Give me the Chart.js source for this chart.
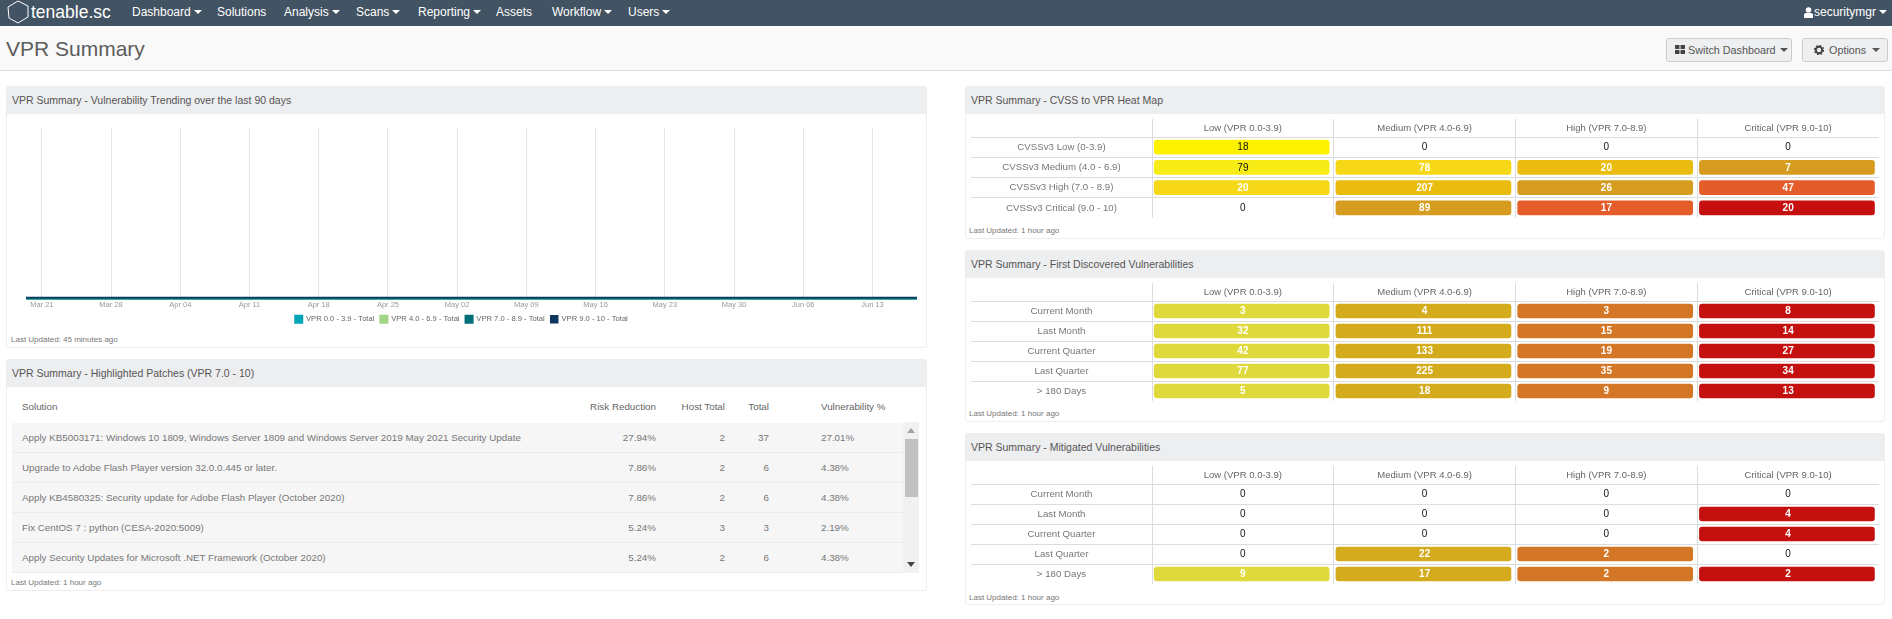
<!DOCTYPE html>
<html>
<head>
<meta charset="utf-8">
<title>VPR Summary</title>
<script src="https://cdn.jsdelivr.net/npm/chart.js@4/dist/chart.umd.min.js"></script>
<style>
    html, body { margin: 0; padding: 0; background: #fff; overflow: hidden; }
    body { width: 1892px; height: 619px; position: relative; font-family: "Liberation Sans", Arial, sans-serif; color: #666; }
    .abs, canvas { position: absolute; }
    #nav { left: 0; top: 0; width: 1892px; height: 26px; background: #425363; }
    .nav-item { position: absolute; top: 5px; color: #fff; font-size: 12px; line-height: 14px; white-space: nowrap; }
    .caret { display: inline-block; width: 0; height: 0; margin-left: 3px; vertical-align: 2px; border-left: 4px solid transparent; border-right: 4px solid transparent; border-top: 4px solid currentColor; }
    #brand { position: absolute; left: 31px; top: 1px; color: #fff; font-size: 17.500px; line-height: 23px; }
    #pageHead { left: 0; top: 29px; width: 1892px; height: 41px; background: #f9f9f9; border-bottom: 1px solid #ddd; }
    #pageTitle { position: absolute; left: 6px; top: 6px; font-size: 21px; line-height: 28px; color: #5c5c5c; }
    .btn { position: absolute; top: 9px; height: 22px; line-height: 22px; background: #eeeff0; border: 1px solid #ccc; border-radius: 3px; font-size: 10.8px; color: #555; white-space: nowrap; box-sizing: content-box; }
    .panel { position: absolute; background: #fff; border: 1px solid #eee; border-radius: 3px; box-sizing: border-box; }
    .panel-head { position: absolute; left: -1px; right: -1px; top: -1px; height: 28px; background: #edeef0; border-radius: 3px 3px 0 0; }
    .panel-title { position: absolute; left: 6px; top: 7px; font-size: 10.5px; line-height: 14px; color: #555; white-space: nowrap; }
    .updated { position: absolute; font-size: 8px; line-height: 11px; color: #777; white-space: nowrap; }
    .th, .td { position: absolute; font-size: 9.8px; line-height: 14px; color: #777; white-space: nowrap; }
    .th { color: #666; }
    .row-bg { position: absolute; left: 12px; width: 891px; height: 29px; background: #f6f6f6; border-bottom: 1px solid #ececec; }
    #scrollTrack { left: 903px; top: 422px; width: 16px; height: 151px; background: #f1f1f1; }
    #scrollThumb { left: 905px; top: 439px; width: 13px; height: 58px; background: #c1c1c1; }
</style>
</head>
<body>

<div class="abs" id="nav">
    <svg class="abs" style="left:6px;top:0" width="24" height="25"><polygon points="12,1 22,6 22,17 12,23 3,18 2,7" fill="none" stroke="#fff" stroke-width="1"/></svg>
    <div id="brand">tenable.sc</div>
    <div class="nav-item" style="left:132px">Dashboard<span class="caret"></span></div>
    <div class="nav-item" style="left:217px">Solutions</div>
    <div class="nav-item" style="left:284px">Analysis<span class="caret"></span></div>
    <div class="nav-item" style="left:356px">Scans<span class="caret"></span></div>
    <div class="nav-item" style="left:418px">Reporting<span class="caret"></span></div>
    <div class="nav-item" style="left:496px">Assets</div>
    <div class="nav-item" style="left:552px">Workflow<span class="caret"></span></div>
    <div class="nav-item" style="left:628px">Users<span class="caret"></span></div>
    <svg class="abs" style="left:1804px;top:7px" width="9" height="11"><circle cx="4.5" cy="3" r="2.8" fill="#fff"/><path d="M0 11V8Q0 6 2 6H7Q9 6 9 8V11Z" fill="#fff"/></svg>
    <div class="nav-item" style="left:1814px">securitymgr<span class="caret"></span></div>
</div>

<div class="abs" id="pageHead">
    <div id="pageTitle">VPR Summary</div>
    <div class="btn" style="left:1666px;width:124px">
        <svg class="abs" style="left:8px;top:6px" width="10" height="9"><path d="M0 0h4.5v4H0zM5.500 0H10v4H5.500zM0 5h4.500v4H0zM5.500 5H10v4H5.500z" fill="#444"/></svg>
        <span class="abs" style="left:21px">Switch Dashboard</span>
        <span class="caret abs" style="left:113px;top:9px;margin:0"></span>
    </div>
    <div class="btn" style="left:1802px;width:84px">
        <svg class="abs" style="left:11px;top:6px" width="10" height="10"><circle cx="5" cy="5" r="3.200" fill="none" stroke="#444" stroke-width="2"/><circle cx="5" cy="5" r="4.600" fill="none" stroke="#444" stroke-width="1.200" stroke-dasharray="1.800 1.800"/></svg>
        <span class="abs" style="left:26px">Options</span>
        <span class="caret abs" style="left:69px;top:9px;margin:0"></span>
    </div>
</div>

<div class="panel" style="left:6px;top:86px;width:921px;height:262px">
    <div class="panel-head"><div class="panel-title">VPR Summary - Vulnerability Trending over the last 90 days</div></div>
    <div class="updated" style="left:4px;top:247px">Last Updated: 45 minutes ago</div>
</div>

<div class="panel" style="left:6px;top:359px;width:921px;height:232px">
    <div class="panel-head"><div class="panel-title">VPR Summary - Highlighted Patches (VPR 7.0 - 10)</div></div>
    <div class="updated" style="left:4px;top:217px">Last Updated: 1 hour ago</div>
</div>
<div id="patchTable"></div>
<div class="abs" id="scrollTrack"></div>
<div class="abs" id="scrollThumb"></div>
<div class="abs" style="left:907px;top:428px;width:0;height:0;border-left:4px solid transparent;border-right:4px solid transparent;border-bottom:5px solid #a3a3a3"></div>
<div class="abs" style="left:907px;top:562px;width:0;height:0;border-left:4px solid transparent;border-right:4px solid transparent;border-top:5px solid #444"></div>

<div class="panel" style="left:965px;top:86px;width:920px;height:153px">
    <div class="panel-head"><div class="panel-title">VPR Summary - CVSS to VPR Heat Map</div></div>
    <div class="updated" style="left:3px;top:138px">Last Updated: 1 hour ago</div>
</div>
<div class="panel" style="left:965px;top:250px;width:920px;height:172px">
    <div class="panel-head"><div class="panel-title">VPR Summary - First Discovered Vulnerabilities</div></div>
    <div class="updated" style="left:3px;top:157px">Last Updated: 1 hour ago</div>
</div>
<div class="panel" style="left:965px;top:433px;width:920px;height:172px">
    <div class="panel-head"><div class="panel-title">VPR Summary - Mitigated Vulnerabilities</div></div>
    <div class="updated" style="left:3px;top:158px">Last Updated: 1 hour ago</div>
</div>

<canvas id="trendChart" width="911" height="218" style="left:6px;top:115px"></canvas>
<canvas id="cvssChart" width="908" height="99" style="left:971px;top:119px"></canvas>
<canvas id="firstChart" width="908" height="118" style="left:971px;top:283px"></canvas>
<canvas id="mitigatedChart" width="908" height="118" style="left:971px;top:466px"></canvas>

<script>
// Trend chart data (days counted from Mar 21)
const trendDays = [-1.6, 0, 7, 14, 21, 28, 35, 42, 49, 56, 63, 70, 77, 84, 88.5];
const tickDays = [0, 7, 14, 21, 28, 35, 42, 49, 56, 63, 70, 77, 84];
const tickLabels = ['Mar 21', 'Mar 28', 'Apr 04', 'Apr 11', 'Apr 18', 'Apr 25', 'May 02', 'May 09', 'May 16', 'May 23', 'May 30', 'Jun 06', 'Jun 13'];
const vprLow = [0, 0, 0, 0, 0, 0, 0, 0, 0, 0, 0, 0, 0, 0, 0];
const vprMedium = [0, 0, 0, 0, 0, 0, 0, 0, 0, 0, 0, 0, 0, 0, 0];
const vprHigh = [0, 0, 0, 0, 0, 0, 0, 0, 0, 0, 0, 0, 0, 0, 0];
const vprCritical = [0.6, 0.6, 0.6, 0.6, 0.6, 0.6, 0.6, 0.6, 0.6, 0.6, 0.6, 0.6, 0.6, 0.6, 0.6];

// Heat map data
const vprColumns = ['Low (VPR 0.0-3.9)', 'Medium (VPR 4.0-6.9)', 'High (VPR 7.0-8.9)', 'Critical (VPR 9.0-10)'];
const cvssRows = ['CVSSv3 Low (0-3.9)', 'CVSSv3 Medium (4.0 - 6.9)', 'CVSSv3 High (7.0 - 8.9)', 'CVSSv3 Critical (9.0 - 10)'];
const cvssValues = [
    [18, 0, 0, 0],
    [79, 78, 20, 7],
    [20, 207, 26, 47],
    [0, 89, 17, 20]
];
const periodRows = ['Current Month', 'Last Month', 'Current Quarter', 'Last Quarter', '> 180 Days'];
const firstValues = [
    [3, 4, 3, 8],
    [32, 111, 15, 14],
    [42, 133, 19, 27],
    [77, 225, 35, 34],
    [5, 18, 9, 13]
];
const mitigatedValues = [
    [0, 0, 0, 0],
    [0, 0, 0, 4],
    [0, 0, 0, 4],
    [0, 22, 2, 0],
    [9, 17, 2, 2]
];

// Highlighted patches table
const patchNames = [
    'Apply KB5003171: Windows 10 1809, Windows Server 1809 and Windows Server 2019 May 2021 Security Update',
    'Upgrade to Adobe Flash Player version 32.0.0.445 or later.',
    'Apply KB4580325: Security update for Adobe Flash Player (October 2020)',
    'Fix CentOS 7 : python (CESA-2020:5009)',
    'Apply Security Updates for Microsoft .NET Framework (October 2020)'
];
const patchRisk = ['27.94%', '7.86%', '7.86%', '5.24%', '5.24%'];
const patchHosts = [2, 2, 2, 3, 2];
const patchTotals = [37, 6, 6, 3, 6];
const patchVuln = ['27.01%', '4.38%', '4.38%', '2.19%', '4.38%'];

// Cell colours
const cvssColors = [
    ['#fff200', null, null, null],
    ['#f8ec16', '#f6d818', '#e9bc0f', '#d69c1f'],
    ['#f6d818', '#e9bc0f', '#d69c1f', '#e55c2b'],
    [null, '#d69c1f', '#e55c2b', '#c5100f']
];
const columnColors = ['#e0d93c', '#d4ab1c', '#d37626', '#c41110'];
const darkTextOn = ['#fff200', '#f8ec16'];

Chart.defaults.font.family = '"Liberation Sans", Arial, sans-serif';
Chart.defaults.animation = false;

function buildPatchTable() {
    const holder = document.getElementById('patchTable');
    let html = '';
    html += '<div class="th" style="left:22px;top:400px">Solution</div>';
    html += '<div class="th" style="right:1236px;top:400px">Risk Reduction</div>';
    html += '<div class="th" style="right:1167px;top:400px">Host Total</div>';
    html += '<div class="th" style="right:1123px;top:400px">Total</div>';
    html += '<div class="th" style="left:821px;top:400px">Vulnerability %</div>';
    patchNames.forEach((name, i) => {
        const top = 423 + i * 30;
        const textTop = top + 8;
        html += '<div class="row-bg" style="top:' + top + 'px"></div>';
        html += '<div class="td" style="left:22px;top:' + textTop + 'px">' + name + '</div>';
        html += '<div class="td" style="right:1236px;top:' + textTop + 'px">' + patchRisk[i] + '</div>';
        html += '<div class="td" style="right:1167px;top:' + textTop + 'px">' + patchHosts[i] + '</div>';
        html += '<div class="td" style="right:1123px;top:' + textTop + 'px">' + patchTotals[i] + '</div>';
        html += '<div class="td" style="left:821px;top:' + textTop + 'px">' + patchVuln[i] + '</div>';
    });
    holder.innerHTML = html;
}

function trendSeries(label, values, color, width, order) {
    return {
        label: label,
        data: values.map((v, i) => ({ x: trendDays[i], y: v })),
        borderColor: color,
        backgroundColor: color,
        borderWidth: width,
        pointRadius: 0,
        clip: false,
        order: order
    };
}

// The legend is centred on the whole panel, not on the padded plot area
const shiftLegend = {
    id: 'shiftLegend',
    afterLayout(chart) {
        chart.legend.left -= 10;
        chart.legend.right -= 10;
    }
};

function initTrendChart() {
    new Chart(document.getElementById('trendChart'), {
        type: 'line',
        data: {
            datasets: [
                trendSeries('VPR 0.0 - 3.9 - Total', vprLow, '#00a5b5', 2, 3),
                trendSeries('VPR 4.0 - 6.9 - Total', vprMedium, '#a2d584', 2, 2),
                trendSeries('VPR 7.0 - 8.9 - Total', vprHigh, '#006f7a', 2, 1),
                trendSeries('VPR 9.0 - 10 - Total', vprCritical, '#0b3760', 1.5, 0)
            ]
        },
        plugins: [shiftLegend],
        options: {
            responsive: false,
            layout: { padding: { left: 20, right: 0, top: 13, bottom: 0 } },
            plugins: {
                tooltip: { enabled: false },
                legend: {
                    position: 'bottom',
                    labels: {
                        boxWidth: 7,
                        boxHeight: 7,
                        padding: 6,
                        color: '#666',
                        font: { size: 7.6 },
                        sort: (a, b) => a.datasetIndex - b.datasetIndex
                    }
                }
            },
            scales: {
                x: {
                    type: 'linear',
                    min: -1.6,
                    max: 88.5,
                    afterBuildTicks: axis => { axis.ticks = tickDays.map(d => ({ value: d })); },
                    grid: { color: '#e6e6e6', tickLength: 2 },
                    border: { display: false },
                    ticks: {
                        autoSkip: false,
                        maxRotation: 0,
                        padding: 0,
                        color: '#999',
                        font: { size: 7.5 },
                        callback: value => tickLabels[tickDays.indexOf(value)]
                    }
                },
                y: { display: false, min: 0, max: 100 }
            }
        }
    });
}

// Puts the numbers in the middle of each heat map cell
const cellLabels = {
    id: 'cellLabels',
    afterDatasetsDraw(chart, args, opts) {
        const ctx = chart.ctx;
        ctx.save();
        ctx.textAlign = 'center';
        ctx.textBaseline = 'middle';
        opts.values.forEach((row, r) => {
            row.forEach((v, c) => {
                const color = opts.colorOf(r, c);
                const dark = v === 0 || darkTextOn.includes(color);
                ctx.font = (dark ? '' : 'bold ') + '10px "Liberation Sans", Arial, sans-serif';
                ctx.fillStyle = dark ? '#111' : '#fff';
                ctx.fillText(v, chart.scales.x.getPixelForValue(c + 0.5), chart.scales.y.getPixelForValue(r) + 0.5);
            });
        });
        ctx.restore();
    }
};

function initHeatMap(id, rows, values, colorOf) {
    const canvas = document.getElementById(id);
    const labelWidth = 181;
    const measure = canvas.getContext('2d');
    measure.font = '9.7px "Liberation Sans", Arial, sans-serif';
    const widest = Math.max(...rows.map(r => measure.measureText(r).width));

    const datasets = vprColumns.map((name, c) => ({
        label: name,
        data: values.map(row => row[c] > 0 ? [c + 0.012, c + 0.975] : null),
        backgroundColor: values.map((row, r) => colorOf(r, c) || 'transparent'),
        borderRadius: 3,
        borderSkipped: false,
        barThickness: 14,
        grouped: false
    }));

    new Chart(canvas, {
        type: 'bar',
        data: { labels: rows, datasets: datasets },
        plugins: [cellLabels],
        options: {
            indexAxis: 'y',
            responsive: false,
            plugins: {
                legend: { display: false },
                tooltip: { enabled: false },
                cellLabels: { values: values, colorOf: colorOf }
            },
            scales: {
                x: {
                    type: 'linear',
                    position: 'top',
                    min: 0,
                    max: 4,
                    afterFit: s => { s.height = 0; },
                    afterBuildTicks: axis => { axis.ticks = [0, 1, 2, 3, 4].map(v => ({ value: v })); },
                    border: { display: false },
                    grid: {
                        tickLength: 18,
                        color: ctx => ctx.tick && ctx.tick.value < 4 ? '#ddd' : 'transparent'
                    },
                    ticks: { display: false }
                },
                colHeads: {
                    type: 'category',
                    labels: vprColumns,
                    position: 'top',
                    weight: 1,
                    offset: true,
                    afterFit: s => { s.height = 18; },
                    border: { display: false },
                    grid: { display: false, drawTicks: false },
                    ticks: { autoSkip: false, maxRotation: 0, padding: 3, color: '#666', font: { size: 9.5 } }
                },
                y: {
                    afterFit: s => { s.width = labelWidth; },
                    border: { display: false },
                    grid: {
                        offset: true,
                        tickLength: labelWidth,
                        color: ctx => ctx.tick ? '#ddd' : 'transparent'
                    },
                    ticks: {
                        autoSkip: false,
                        crossAlign: 'center',
                        padding: -(labelWidth / 2 + widest / 2),
                        color: '#777',
                        font: { size: 9.7 }
                    }
                }
            }
        }
    });
}

document.addEventListener('DOMContentLoaded', function() {
    buildPatchTable();
    initTrendChart();
    initHeatMap('cvssChart', cvssRows, cvssValues, (r, c) => cvssColors[r][c]);
    initHeatMap('firstChart', periodRows, firstValues, (r, c) => columnColors[c]);
    initHeatMap('mitigatedChart', periodRows, mitigatedValues, (r, c) => mitigatedValues[r][c] > 0 ? columnColors[c] : null);
});
</script>
</body>
</html>
